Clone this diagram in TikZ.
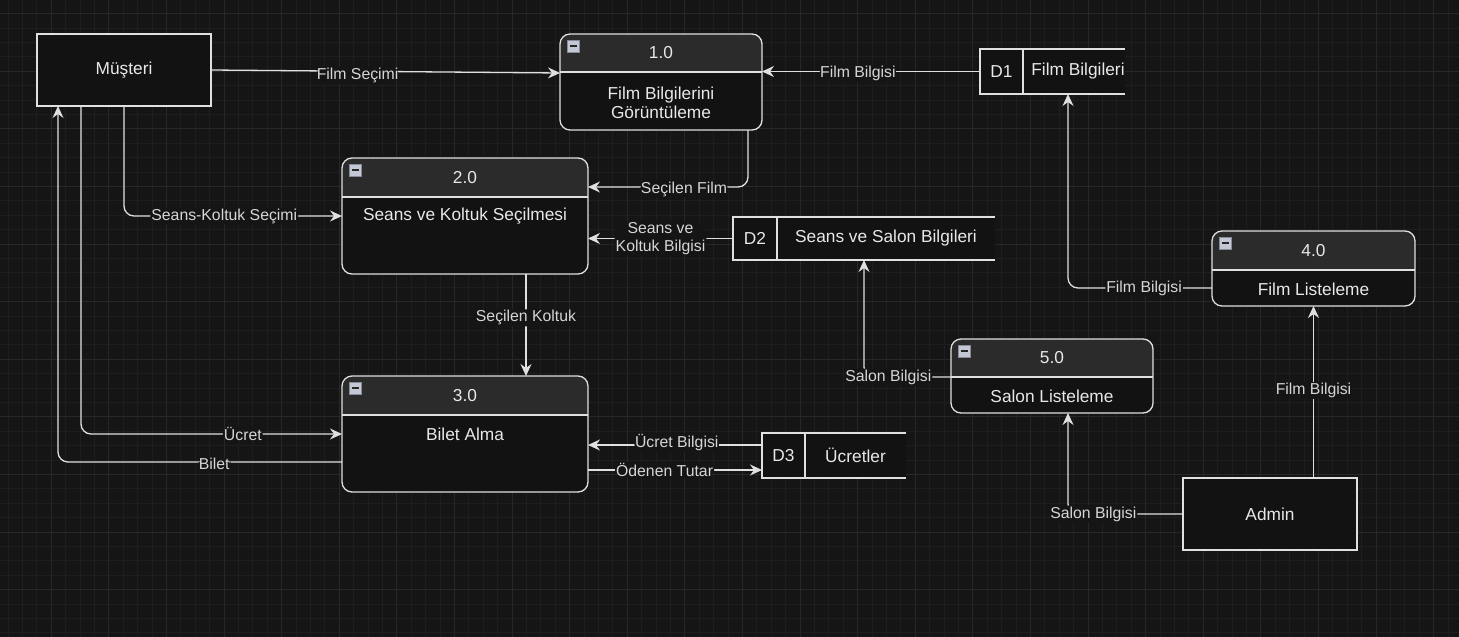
\documentclass[tikz,border=0pt]{standalone}
\usepackage{fontspec}
\setmainfont{Liberation Sans}
\usetikzlibrary{arrows.meta,calc}
\definecolor{bgc}{HTML}{151515}
\definecolor{gridminor}{HTML}{1E1E1E}
\definecolor{gridmajor}{HTML}{272727}
\definecolor{boxfill}{HTML}{121212}
\definecolor{headfill}{HTML}{2B2B2B}
\definecolor{linec}{HTML}{E0E0E0}
\definecolor{txtc}{HTML}{E8E8E8}
\definecolor{lblc}{HTML}{D6D6D6}
\definecolor{iconfill}{HTML}{C4C8D4}
\definecolor{iconline}{HTML}{858B99}
\tikzset{
  boxline/.style={draw=linec, line width=1.3pt},
  extbox/.style={boxline, fill=boxfill, rectangle, inner sep=0pt, outer sep=0pt},
  procshape/.style={rectangle, fill=boxfill, rounded corners=10pt, inner sep=0pt, outer sep=0pt},
  boxtxt/.style={text=txtc, font=\fontsize{17.3}{19}\selectfont, inner sep=0pt},
  lbl/.style={fill=bgc, inner sep=1pt, text=lblc, font=\fontsize{15.8}{17.5}\selectfont},
  flow/.style={draw=linec, line width=1.3pt, rounded corners=10pt, -{Stealth[length=12pt,width=11pt,inset=4pt]}},
  storeline/.style={draw=linec, line width=1.3pt},
}
% name, cx, cy, w, h, header height, number, body, body offset from top
\newcommand\mkproc[9]{%
  \node[procshape, minimum width=#4pt, minimum height=#5pt] (#1) at (#2,#3) {};
  \begin{scope}
    \clip[rounded corners=10pt] (#1.north west) rectangle (#1.south east);
    \fill[headfill] (#1.north west) rectangle ([yshift=-#6pt]#1.north east);
  \end{scope}
  \draw[boxline] ([yshift=-#6pt]#1.north west) -- ([yshift=-#6pt]#1.north east);
  \draw[boxline, rounded corners=10pt] (#1.north west) rectangle (#1.south east);
  \node[boxtxt] (#1n) at ($(#1.north)+(0,{#6/2})$) {#7};
  \node[boxtxt, align=center] (#1b) at ($(#1.north)+(0,#9)$) {#8};
  \draw[iconline, fill=iconfill, line width=0.6pt] ($(#1.north west)+(7,6)$) rectangle ($(#1.north west)+(19,18)$);
  \draw[black!85, line width=1.6pt] ($(#1.north west)+(9.5,12)$) -- ($(#1.north west)+(16.5,12)$);
}
% name, x1, y1, x2, y2, xdiv, id, label, label x offset
\newcommand\mkstore[9]{%
  \node[inner sep=0pt, outer sep=0pt, minimum width={#4-#2}, minimum height={#5-#3}] (#1) at ({(#2+#4)/2},{(#3+#5)/2}) {};
  \fill[boxfill] (#2,#3) rectangle (#4,#5);
  \draw[storeline] (#4,#3) -- (#2,#3) -- (#2,#5) -- (#4,#5);
  \draw[storeline] (#6,#3) -- (#6,#5);
  \node[boxtxt] (#1i) at ({(#2+#6)/2},{(#3+#5)/2}) {#7};
  \node[boxtxt] (#1l) at ({(#6+#4)/2+#9},{(#3+#5)/2}) {#8};
}
\begin{document}
\begin{tikzpicture}[x=1pt,y=-1pt]
\useasboundingbox (0,0) rectangle (1459,637);
\fill[bgc] (0,0) rectangle (1459,637);
% grid
\foreach \i in {0,...,101} {
  \pgfmathsetmacro\xx{8+14.4*\i}
  \draw[gridminor, line width=0.7pt] (\xx,0) -- (\xx,637);
}
\foreach \j in {0,...,44} {
  \pgfmathsetmacro\yy{13.6+14.4*\j}
  \draw[gridminor, line width=0.7pt] (0,\yy) -- (1459,\yy);
}
\foreach \i in {0,...,25} {
  \pgfmathsetmacro\xx{-6.4+57.6*\i}
  \draw[gridmajor, line width=0.8pt] (\xx,0) -- (\xx,637);
}
\foreach \j in {0,...,11} {
  \pgfmathsetmacro\yy{13.6+57.6*\j}
  \draw[gridmajor, line width=0.8pt] (0,\yy) -- (1459,\yy);
}
% external entities
\node[extbox, minimum width=174pt, minimum height=72pt] (mus) at (124,70) {};
\node[boxtxt] (musl) at (mus) {Müşteri};
\node[extbox, minimum width=174pt, minimum height=72pt] (adm) at (1270,514) {};
\node[boxtxt] (adml) at (adm) {Admin};
% processes
\mkproc{p1}{661}{82}{202}{96}{38}{1.0}{Film Bilgilerini\\Görüntüleme}{68.5}
\mkproc{p2}{465}{216}{246}{116}{39}{2.0}{Seans ve Koltuk Seçilmesi}{58}
\mkproc{p3}{465}{434}{246}{116}{39}{3.0}{Bilet Alma}{58}
\mkproc{p4}{1313.5}{268.5}{203}{75}{39}{4.0}{Film Listeleme}{58}
\mkproc{p5}{1052}{376}{202}{74}{38}{5.0}{Salon Listeleme}{57}
% data stores
\mkstore{d1}{980}{49}{1125}{94}{1023}{D1}{Film Bilgileri}{4}
\mkstore{d2}{733}{217}{995}{260}{777}{D2}{Seans ve Salon Bilgileri}{0}
\mkstore{d3}{762}{433}{906}{478}{805}{D3}{Ücretler}{0}
% connectors
\draw[flow] (mus.east) -- node[lbl,pos=.42,yshift=-4pt]{Film Seçimi} ([yshift=9pt]p1.west);
\draw[flow] (d1.west) -- node[lbl,pos=.56,yshift=-2pt]{Film Bilgisi} (p1.east |- d1.west);
\draw[flow] ([xshift=87pt]p1.south) |- node[lbl,pos=.7,yshift=-2pt]{Seçilen Film} ([yshift=29pt]p2.east);
\draw[flow] (mus.south) |- node[lbl,pos=.73]{Seans-Koltuk Seçimi} (p2.west);
\draw[flow] (d2.west) -- node[lbl,align=center,pos=.5]{Seans ve\\Koltuk Bilgisi} (p2.east |- d2.west);
\draw[flow] ([xshift=61pt]p2.south) -- node[lbl,pos=.43]{Seçilen Koltuk} ([xshift=61pt]p3.north);
\draw[flow] ([xshift=-43pt]mus.south) |- node[lbl,pos=.81]{Ücret} (p3.west);
\draw[flow] ([yshift=-28pt]p3.west) -| node[lbl,pos=.225,yshift=-2pt]{Bilet} ([xshift=-66pt]mus.south);
\coordinate (d3a) at ([yshift=10.5pt]d3.west);
\coordinate (d3b) at ([yshift=-14.5pt]d3.west);
\draw[flow] (d3a) -- node[lbl,pos=.49,yshift=2pt]{Ücret Bilgisi} (p3.east |- d3a);
\draw[flow] (p3.east |- d3b) -- node[lbl,pos=.44]{Ödenen Tutar} (d3b);
\draw[flow] ([yshift=-19.5pt]p4.west) -| node[lbl,pos=.236]{Film Bilgisi} ([xshift=15.5pt]d1.south);
\draw[flow] ([yshift=-1pt]p5.west) -| node[lbl,pos=.36]{Salon Bilgisi} (d2.south);
\draw[flow] (adm.north -| p4.south) -- node[lbl,pos=.52,yshift=-2pt]{Film Bilgisi} (p4.south);
\draw[flow] (adm.west) -| node[lbl,pos=.39]{Salon Bilgisi} ([xshift=16pt]p5.south);
\end{tikzpicture}
\end{document}
